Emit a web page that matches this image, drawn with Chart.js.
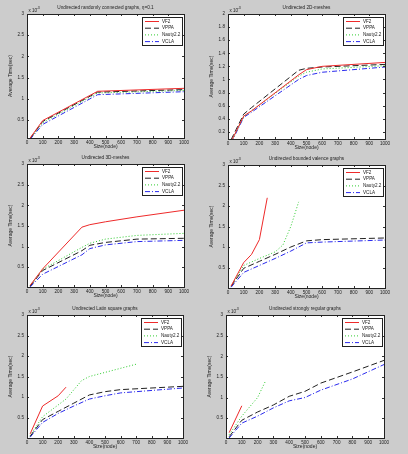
<!DOCTYPE html>
<html><head><meta charset="utf-8">
<script src="https://cdn.jsdelivr.net/npm/chart.js@4/dist/chart.umd.min.js"></script>
<style>
html,body{margin:0;padding:0;background:#cccccc;}
#wrap{position:relative;width:408px;height:454px;overflow:hidden;background:#cccccc;}
canvas{position:absolute;}
</style></head><body><div id="wrap"></div>
<script>
// ---- shared tick labels ----
const X_TICKS = [0,100,200,300,400,500,600,700,800,900,1000];
const Y_TICKS_A = [0.5,1,1.5,2,2.5,3];
const Y_TICKS_B = [0.2,0.4,0.6,0.8,1,1.2,1.4,1.6,1.8,2];
const SERIES_NAMES = ['VF2','VPPA','Nauty2.2','VCLA'];
const TITLES = [
  'Undirected randomly connected graphs, \u03b7=0.1',
  'Undirected 2D-meshes',
  'Undirected 3D-meshes',
  'Undirected bounded valence graphs',
  'Undirected Latin square graphs',
  'Undirected strongly regular graphs'
];
const X_LABEL = 'Size(node)';
const Y_LABEL = 'Average Time(sec)';

// ---- plot 1 ----
const p1Size  = [20, 100, 450, 1000];
const p1VF2   = [0.08, 0.49, 1.18, 1.25];
const p1VPPA  = [0.07, 0.47, 1.16, 1.22];
const p1Nauty = [0.06, 0.44, 1.14, 1.20];
const p1VCLA  = [0.05, 0.40, 1.10, 1.17];
// ---- plot 2 ----
const p2Size  = [20, 100, 150, 450, 500, 600, 1000];
const p2VF2   = [0.05, 0.44, 0.52, 1.07, 1.15, 1.20, 1.26];
const p2VPPA  = [0.08, 0.47, 0.57, 1.14, 1.17, 1.19, 1.23];
const p2Nauty = [0.04, 0.43, 0.52, 1.05, 1.11, 1.16, 1.21];
const p2VCLA  = [0.03, 0.42, 0.50, 1.00, 1.06, 1.11, 1.19];
// ---- plot 3 ----
const p3Size  = [20, 100, 350, 400, 500, 700, 1000];
const p3VF2   = [0.06, 0.46, 1.47, 1.53, 1.60, 1.72, 1.88];
const p3VPPA  = [0.04, 0.42, 0.90, 1.03, 1.10, 1.18, 1.20];
const p3Nauty = [0.05, 0.45, 0.98, 1.08, 1.18, 1.27, 1.32];
const p3VCLA  = [0.02, 0.33, 0.80, 0.95, 1.04, 1.12, 1.15];
// ---- plot 4 ----
const p4SizeVF2   = [20, 100, 150, 200, 250];
const p4VF2       = [0.05, 0.62, 0.82, 1.18, 2.20];
const p4SizeNauty = [20, 100, 200, 300, 350, 400, 450];
const p4Nauty     = [0.05, 0.55, 0.72, 0.88, 1.05, 1.50, 2.10];
const p4Size      = [20, 100, 200, 300, 400, 500, 600, 1000];
const p4VPPA      = [0.04, 0.48, 0.65, 0.82, 1.00, 1.15, 1.18, 1.22];
const p4VCLA      = [0.02, 0.38, 0.55, 0.72, 0.90, 1.10, 1.12, 1.17];
// ---- plot 5 ----
const p5SizeVF2   = [20, 100, 200, 250];
const p5VF2       = [0.10, 0.78, 1.03, 1.24];
const p5SizeNauty = [20, 100, 250, 350, 400, 700];
const p5Nauty     = [0.06, 0.52, 0.95, 1.40, 1.50, 1.80];
const p5Size      = [20, 100, 200, 300, 400, 500, 600, 1000];
const p5VPPA      = [0.04, 0.45, 0.65, 0.85, 1.05, 1.13, 1.18, 1.26];
const p5VCLA      = [0.02, 0.38, 0.60, 0.78, 0.95, 1.03, 1.10, 1.22];
// ---- plot 6 ----
const p6SizeVF2   = [20, 100];
const p6VF2       = [0.15, 0.80];
const p6SizeNauty = [20, 100, 200, 250];
const p6Nauty     = [0.10, 0.55, 1.00, 1.40];
const p6Size      = [20, 100, 200, 300, 400, 500, 600, 800, 1000];
const p6VPPA      = [0.05, 0.45, 0.65, 0.82, 1.03, 1.15, 1.35, 1.62, 1.90];
const p6VCLA      = [0.02, 0.38, 0.55, 0.75, 0.92, 1.00, 1.18, 1.45, 1.80];

const STYLES = [
  {color:'#ee2a2a', dash:[]},
  {color:'#222222', dash:[6,3]},
  {color:'#2ecc2e', dash:[1,2]},
  {color:'#2a2aee', dash:[5,2,1,2]}
];
const FONT = '"Liberation Sans", Arial, sans-serif';

function pts(xs, ys){ return xs.map((x,i)=>({x:x, y:ys[i]})); }

const PLOTS = [
  {cell:[0,0,204,150],   frame:[27,14,184,138],  yTicks:Y_TICKS_A, yMin:0.08, yMax:3,
   series:[pts(p1Size,p1VF2),pts(p1Size,p1VPPA),pts(p1Size,p1Nauty),pts(p1Size,p1VCLA)]},
  {cell:[204,0,204,150], frame:[228,14,385,139], yTicks:Y_TICKS_B, yMin:0.09, yMax:2,
   series:[pts(p2Size,p2VF2),pts(p2Size,p2VPPA),pts(p2Size,p2Nauty),pts(p2Size,p2VCLA)]},
  {cell:[0,150,204,150], frame:[27,164,184,287], yTicks:Y_TICKS_A, yMin:0.02, yMax:3,
   series:[pts(p3Size,p3VF2),pts(p3Size,p3VPPA),pts(p3Size,p3Nauty),pts(p3Size,p3VCLA)]},
  {cell:[204,150,204,150], frame:[228,165,385,288], yTicks:Y_TICKS_A, yMin:0.0, yMax:3,
   series:[pts(p4SizeVF2,p4VF2),pts(p4Size,p4VPPA),pts(p4SizeNauty,p4Nauty),pts(p4Size,p4VCLA)]},
  {cell:[0,300,204,154], frame:[27,315,183,438], yTicks:Y_TICKS_A, yMin:0.0, yMax:3,
   series:[pts(p5SizeVF2,p5VF2),pts(p5Size,p5VPPA),pts(p5SizeNauty,p5Nauty),pts(p5Size,p5VCLA)]},
  {cell:[204,300,204,154], frame:[226,315,384,438], yTicks:Y_TICKS_A, yMin:0.02, yMax:3,
   series:[pts(p6SizeVF2,p6VF2),pts(p6Size,p6VPPA),pts(p6SizeNauty,p6Nauty),pts(p6Size,p6VCLA)]}
];

const decor = {
  id:'decor',
  beforeDatasetsDraw(chart){
    const a = chart.chartArea, c = chart.ctx;
    c.save(); c.fillStyle='#ffffff'; c.fillRect(a.left,a.top,a.right-a.left,a.bottom-a.top); c.restore();
  },
  afterDraw(chart){
    const a = chart.chartArea, c = chart.ctx, o = chart.options.plugins.decor;
    c.save();
    // inward ticks
    c.strokeStyle='#333'; c.lineWidth=1; c.setLineDash([]);
    const xs = chart.scales.x, ys = chart.scales.y;
    xs.ticks.forEach(t=>{
      const px = Math.round(xs.getPixelForValue(t.value))+0.5;
      c.beginPath(); c.moveTo(px,a.bottom); c.lineTo(px,a.bottom-2);
      c.moveTo(px,a.top); c.lineTo(px,a.top+2); c.stroke();
    });
    ys.ticks.forEach(t=>{
      const py = Math.round(ys.getPixelForValue(t.value))+0.5;
      c.beginPath(); c.moveTo(a.left,py); c.lineTo(a.left+2,py);
      c.moveTo(a.right,py); c.lineTo(a.right-2,py); c.stroke();
    });
    // box
    c.strokeStyle='#222';
    c.strokeRect(Math.round(a.left)+0.5, Math.round(a.top)+0.5, Math.round(a.right-a.left), Math.round(a.bottom-a.top));
    // title
    c.fillStyle='#222';
    c.font='4.7px '+FONT; c.textAlign='center'; c.textBaseline='middle';
    c.fillText(o.title, (a.left+a.right)/2, a.top-6);
    // exponent
    c.textAlign='left'; c.textBaseline='alphabetic';
    c.font='4.5px '+FONT; c.fillText('x 10', a.left+1.5, a.top-2);
    c.font='3.6px '+FONT; c.fillText('-3', a.left+9.5, a.top-5.5);
    // axis titles
    c.font='5px '+FONT; c.textAlign='center'; c.textBaseline='middle';
    c.fillText(X_LABEL, (a.left+a.right)/2, a.bottom+9);
    c.save(); c.translate(a.left-16,(a.top+a.bottom)/2); c.rotate(-Math.PI/2);
    c.fillText(Y_LABEL,0,0); c.restore();
    // legend
    const lw=40, lh=28, lx=Math.round(a.right)-lw-2, ly=Math.round(a.top)+3;
    c.fillStyle='#ffffff'; c.fillRect(lx,ly,lw,lh);
    c.strokeStyle='#222'; c.lineWidth=1; c.strokeRect(lx+0.5,ly+0.5,lw,lh);
    chart.data.datasets.forEach((d,i)=>{
      const yy = ly+4.5+i*6.7;
      c.strokeStyle=d.borderColor; c.setLineDash(d.borderDash||[]); c.lineWidth=1;
      c.beginPath(); c.moveTo(lx+3,yy); c.lineTo(lx+17,yy); c.stroke();
      c.setLineDash([]);
      c.fillStyle='#222'; c.font='4.6px '+FONT; c.textAlign='left'; c.textBaseline='middle';
      c.fillText(d.label, lx+20, yy);
    });
    c.restore();
  }
};

const wrap = document.getElementById('wrap');
PLOTS.forEach((p,k)=>{
  const [cx,cy,cw,ch] = p.cell;
  const [L,T,R,B] = p.frame;
  const cv = document.createElement('canvas');
  cv.width=cw; cv.height=ch; cv.style.left=cx+'px'; cv.style.top=cy+'px';
  cv.style.width=cw+'px'; cv.style.height=ch+'px';
  wrap.appendChild(cv);
  new Chart(cv.getContext('2d'), {
    type:'line',
    data:{datasets:p.series.map((s,i)=>({
      label:SERIES_NAMES[i], data:s, borderColor:STYLES[i].color, borderDash:STYLES[i].dash,
      borderWidth:1, pointRadius:0, tension:0, fill:false
    }))},
    options:{
      responsive:false, animation:false, devicePixelRatio:1,
      layout:{padding:{left:0, top:T-cy, right:(cx+cw)-R, bottom:0}},
      scales:{
        x:{type:'linear', min:0, max:1000,
           afterBuildTicks(s){ s.ticks = X_TICKS.map(v=>({value:v})); },
           afterFit(s){ s.height = (cy+ch)-B; },
           grid:{display:false, drawTicks:false, tickLength:0}, border:{display:false},
           ticks:{font:{size:4.6, family:FONT}, color:'#222', padding:2, maxRotation:0, autoSkip:false,
                  callback:(v)=>String(v)}},
        y:{type:'linear', min:p.yMin, max:p.yMax,
           afterBuildTicks(s){ s.ticks = p.yTicks.map(v=>({value:v})); },
           afterFit(s){ s.width = L-cx; },
           grid:{display:false, drawTicks:false, tickLength:0}, border:{display:false},
           ticks:{font:{size:4.6, family:FONT}, color:'#222', padding:3, autoSkip:false,
                  callback:(v)=>String(+v.toFixed(2))}}
      },
      plugins:{legend:{display:false}, tooltip:{enabled:false}, decor:{title:TITLES[k]}}
    },
    plugins:[decor]
  });
});
</script></body></html>
